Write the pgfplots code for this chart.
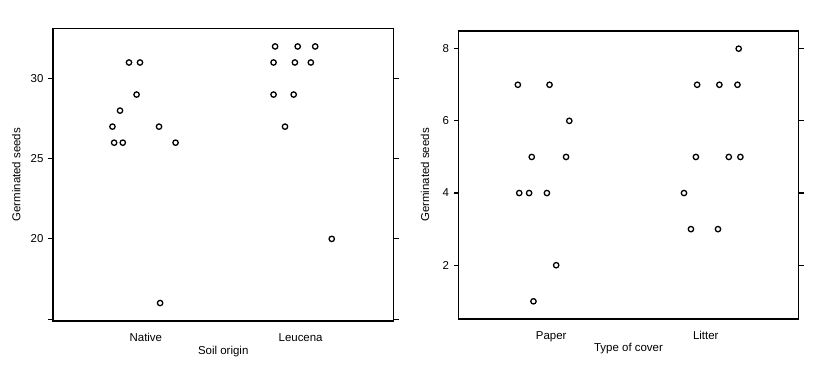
\documentclass[border=0pt]{standalone}
\usepackage{fontspec}
\setmainfont{Liberation Sans}
\usepackage{pgfplots}
\pgfplotsset{compat=1.18}
\pgfplotsset{
  lat/.style={
    scale only axis,
    anchor=south west,
    xmin=0.4, xmax=2.6,
    xtick={1,2},
    axis line style={line width=1.7bp, black},
    tick align=outside,
    major tick length=5bp,
    ytick style={line width=1.1bp, black},
    xtick style={draw=none},
    yticklabel pos=left,
    font=\fontsize{11.5}{13}\selectfont,
    /pgf/number format/assume math mode=true,
    xticklabel style={anchor=base, yshift=-15bp},
    yticklabel style={xshift=-1bp},
  },
  pts/.style={only marks, mark=o, mark size=2.7pt, line width=1.3pt, black, mark options={solid}},
}
\begin{document}
\begin{tikzpicture}
\useasboundingbox (0,0) rectangle (833bp,382bp);
\begin{axis}[lat,
  at={(53bp,61bp)}, width=340.5bp, height=292.5bp,
  ymin=14.88, ymax=33.12,
  ytick={15,20,25,30}, yticklabels={,20,25,30},
  xticklabels={Native,Leucena},
  xlabel={Soil origin}, ylabel={Germinated seeds},
  xlabel style={at={(axis description cs:0.5,0)}, anchor=base, yshift=-33bp},
  ylabel style={at={(axis description cs:-0.108,0.5)}, anchor=center},
]
\addplot[pts] coordinates {
(0.784,27) (0.795,26) (0.833,28) (0.851,26) (0.891,31)
(0.940,29) (0.962,31) (1.085,27) (1.092,16) (1.192,26)
};
\addplot[pts] coordinates {
(1.835,32) (1.981,32) (2.094,32) (1.825,31) (1.963,31)
(2.066,31) (1.825,29) (1.955,29) (1.899,27) (2.201,20)
};
\end{axis}
\begin{axis}[lat,
  at={(458.5bp,63bp)}, width=340bp, height=288bp,
  ymin=0.51, ymax=8.49,
  ytick={2,4,6,8},
  xticklabels={Paper,Litter},
  xlabel={Type of cover}, ylabel={Germinated seeds},
  xlabel style={at={(axis description cs:0.5,0)}, anchor=base, yshift=-32.7bp},
  ylabel style={at={(axis description cs:-0.0988,0.5)}, anchor=center},
]
\addplot[pts] coordinates {
(0.784,7) (0.989,7) (1.117,6) (0.874,5) (1.096,5)
(0.793,4) (0.857,4) (0.972,4) (1.032,2) (0.885,1)
};
\addplot[pts] coordinates {
(2.213,8) (1.944,7) (2.088,7) (2.205,7) (1.936,5)
(2.149,5) (2.224,5) (1.859,4) (1.904,3) (2.079,3)
};
\end{axis}
\end{tikzpicture}
\end{document}
